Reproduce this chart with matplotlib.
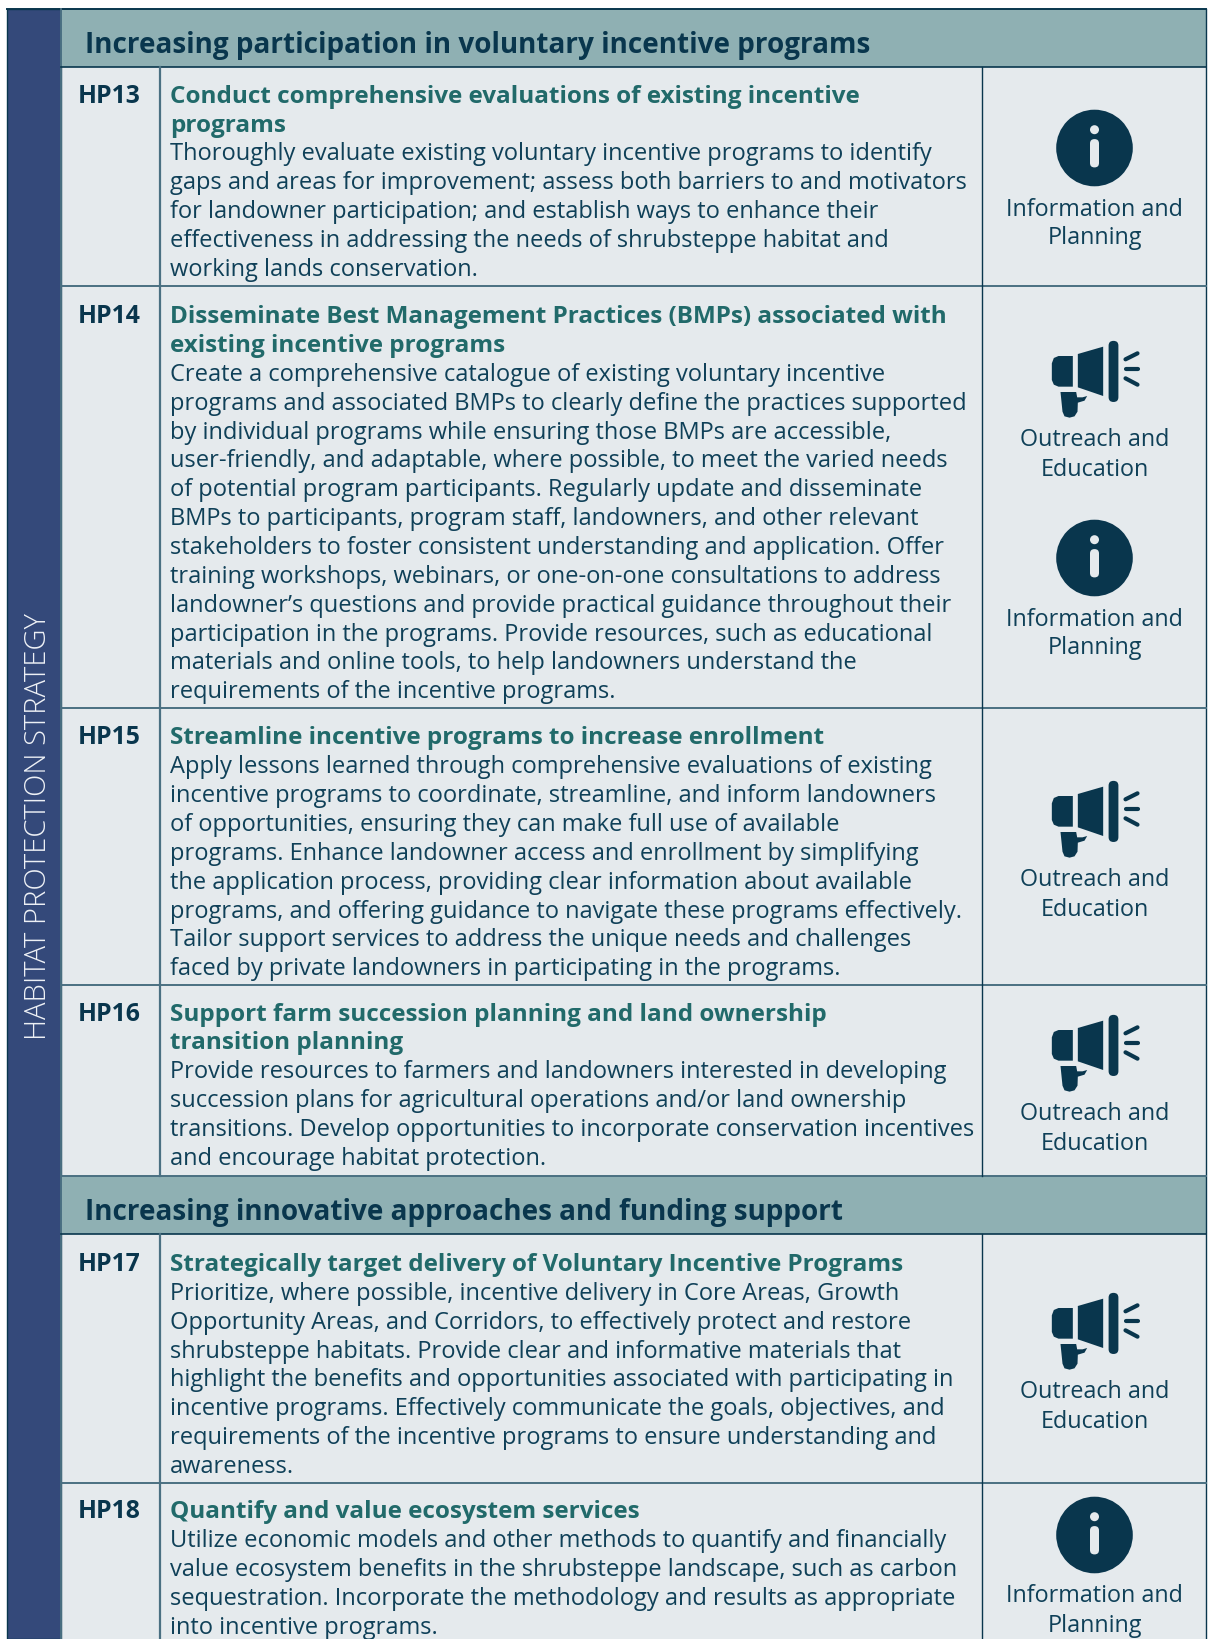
#!/usr/bin/env python3
"""
Habitat protection strategy table, HP13-HP18.

Output: out.png
"""

import matplotlib
matplotlib.use('Agg')
import matplotlib.pyplot as plt
from matplotlib.patches import Circle, FancyBboxPatch, Polygon, Rectangle

# --- Palette ---
STRIP = '#34497A'
HEADER = '#8FB0B3'
CELL = '#E5EAED'
DARK = '#09364D'
BODY = '#0F4058'
TEAL = '#216A6A'
RULE = '#4A7082'
FONT = 'Open Sans'

SIDE_LABEL = 'HABITAT PROTECTION STRATEGY'

HEADERS = ['Increasing participation in voluntary incentive programs',
           'Increasing innovative approaches and funding support']
HEADER_TOPS = [9, 1176]
HEADER_BOTTOMS = [67, 1234]
HEADER_BASELINES = [53, 1220]

ROW_IDS = ['HP13', 'HP14', 'HP15', 'HP16', 'HP17', 'HP18']
ROW_BASELINES = [102.7, 323.2, 744.4, 1020.6, 1271, 1518.4]
RULE_YS = [286, 708, 985, 1483]

ROW_TITLES = [
    ['Conduct comprehensive evaluations of existing incentive', 'programs'],
    ['Disseminate Best Management Practices (BMPs) associated with',
     'existing incentive programs'],
    ['Streamline incentive programs to increase enrollment'],
    ['Support farm succession planning and land ownership',
     'transition planning'],
    ['Strategically target delivery of Voluntary Incentive Programs'],
    ['Quantify and value ecosystem services'],
]

ROW_BODIES = [
    ['Thoroughly evaluate existing voluntary incentive programs to identify',
     'gaps and areas for improvement; assess both barriers to and motivators',
     'for landowner participation; and establish ways to enhance their',
     'effectiveness in addressing the needs of shrubsteppe habitat and',
     'working lands conservation.'],
    ['Create a comprehensive catalogue of existing voluntary incentive',
     'programs and associated BMPs to clearly define the practices supported',
     'by individual programs while ensuring those BMPs are accessible,',
     'user-friendly, and adaptable, where possible, to meet the varied needs',
     'of potential program participants. Regularly update and disseminate',
     'BMPs to participants, program staff, landowners, and other relevant',
     'stakeholders to foster consistent understanding and application. Offer',
     'training workshops, webinars, or one-on-one consultations to address',
     'landowner\u2019s questions and provide practical guidance throughout their',
     'participation in the programs. Provide resources, such as educational',
     'materials and online tools, to help landowners understand the',
     'requirements of the incentive programs.'],
    ['Apply lessons learned through comprehensive evaluations of existing',
     'incentive programs to coordinate, streamline, and inform landowners',
     'of opportunities, ensuring they can make full use of available',
     'programs. Enhance landowner access and enrollment by simplifying',
     'the application process, providing clear information about available',
     'programs, and offering guidance to navigate these programs effectively.',
     'Tailor support services to address the unique needs and challenges',
     'faced by private landowners in participating in the programs.'],
    ['Provide resources to farmers and landowners interested in developing',
     'succession plans for agricultural operations and/or land ownership',
     'transitions. Develop opportunities to incorporate conservation incentives',
     'and encourage habitat protection.'],
    ['Prioritize, where possible, incentive delivery in Core Areas, Growth',
     'Opportunity Areas, and Corridors, to effectively protect and restore',
     'shrubsteppe habitats. Provide clear and informative materials that',
     'highlight the benefits and opportunities associated with participating in',
     'incentive programs. Effectively communicate the goals, objectives, and',
     'requirements of the incentive programs to ensure understanding and',
     'awareness.'],
    ['Utilize economic models and other methods to quantify and financially',
     'value ecosystem benefits in the shrubsteppe landscape, such as carbon',
     'sequestration. Incorporate the methodology and results as appropriate',
     'into incentive programs.'],
]

# kind, icon centre y
ICON_KINDS = ['info', 'mega', 'info', 'mega', 'mega', 'mega', 'info']
ICON_YS = [148, 379, 558, 819, 1053, 1331, 1535]
INFO_LABEL = ['Information and', 'Planning']
MEGA_LABEL = ['Outreach and', 'Education']

BODY_SIZE = 17.0
TITLE_SIZE = 17.5
LABEL_SIZE = 16.8
LINE = 28.85
COL_X = 160
ICON_X = 982
RIGHT = 1206
ICON_CX = 1094.5


def draw_info(ax, cx, cy):
    ax.add_patch(Circle((cx, cy), 38.3, fc=DARK, ec='none'))
    ax.add_patch(Circle((cx, cy - 18.3), 4.5, fc=CELL, ec='none'))
    ax.add_patch(FancyBboxPatch((cx - 0.1, cy - 4.5), 0.2, 19.5,
                                boxstyle='round,pad=4.4,rounding_size=4.4',
                                fc=CELL, ec='none'))
    for i, s in enumerate(INFO_LABEL):
        ax.text(cx, cy + 67.5 + i * 29, s, ha='center', va='baseline',
                fontsize=LABEL_SIZE, color=BODY, family=FONT)


def draw_mega(ax, cx, cy):
    def pts(p):
        return [(cx + (x - 400) / 3, cy + (y - 237) / 3) for x, y in p]

    # horn, mouth, handle
    ax.add_patch(Polygon(pts([(350, 162), (426, 140), (426, 288), (350, 262)]),
                         fc=DARK, ec='none'))
    ax.add_patch(Polygon(pts([(335, 168), (292, 168), (278, 174), (272, 190),
                              (272, 240), (278, 254), (292, 260), (335, 260)]),
                         fc=DARK, ec='none'))
    ax.add_patch(Polygon(pts([(298, 276), (345, 276), (348, 292), (364, 292),
                              (378, 288), (370, 302), (350, 308), (349, 335),
                              (340, 349), (325, 353), (310, 349), (304, 335)]),
                         fc=DARK, ec='none'))
    x0, y0 = pts([(457, 137)])[0]
    ax.add_patch(FancyBboxPatch((x0 - 0.1, y0), 0.2, 51.5,
                                boxstyle='round,pad=4.8,rounding_size=4.8',
                                fc=DARK, ec='none'))
    for a, b in [((493, 178), (529, 160)), ((493, 206), (529, 206)),
                 ((493, 235), (529, 254))]:
        (xa, ya), (xb, yb) = pts([a, b])
        ax.plot([xa, xb], [ya, yb], color=DARK, lw=3.0, solid_capstyle='round')
    for i, s in enumerate(MEGA_LABEL):
        ax.text(cx, cy + 67 + i * 29.5, s, ha='center', va='baseline',
                fontsize=LABEL_SIZE, color=BODY, family=FONT)


fig = plt.figure(figsize=(12.08, 16.39), dpi=100)
fig.patch.set_facecolor('white')
ax = fig.add_axes([0, 0, 1, 1])
ax.set_xlim(0, 1208)
ax.set_ylim(1639, 0)
ax.axis('off')

# Backgrounds
ax.add_patch(Rectangle((61, 9), RIGHT - 61, 1630, fc=CELL, ec='none'))
ax.add_patch(Rectangle((7, 9), 54, 1630, fc=STRIP, ec=DARK, lw=1.0))
for top, bot in zip(HEADER_TOPS, HEADER_BOTTOMS):
    ax.add_patch(Rectangle((61, top), RIGHT - 61, bot - top, fc=HEADER, ec='none'))

# Rules
ax.plot([RIGHT, RIGHT], [9, 1639], color=DARK, lw=1.0)
ax.plot([7, RIGHT], [9, 9], color=DARK, lw=1.4)
ax.plot([61, 61], [9, 1639], color=RULE, lw=1.4)
for y in RULE_YS + HEADER_TOPS[1:]:
    ax.plot([61, RIGHT], [y, y], color=RULE, lw=1.4)
for y in HEADER_BOTTOMS:
    ax.plot([61, RIGHT], [y, y], color=DARK, lw=1.2)
for top, bot in [(67, 1176), (1234, 1639)]:
    ax.plot([COL_X, COL_X], [top, bot], color=RULE, lw=1.6)
    ax.plot([ICON_X, ICON_X], [top, bot], color=DARK, lw=1.0)

# Text
ax.text(38, 827, SIDE_LABEL, rotation=90, ha='center', va='center',
        fontsize=21, color='#EEF1F6', family=FONT, weight='light')
for label, y in zip(HEADERS, HEADER_BASELINES):
    ax.text(85, y, label, va='baseline', fontsize=20.1, fontweight='bold',
            color=DARK, family=FONT)

for rid, base, title, body in zip(ROW_IDS, ROW_BASELINES, ROW_TITLES, ROW_BODIES):
    ax.text(78, base, rid, va='baseline', fontsize=17.8, fontweight='bold',
            color=DARK, family=FONT)
    for i, s in enumerate(title):
        ax.text(170, base + i * LINE, s, va='baseline', fontsize=TITLE_SIZE,
                fontweight='bold', color=TEAL, family=FONT)
    for i, s in enumerate(body):
        ax.text(170, base + (i + len(title)) * LINE, s, va='baseline',
                fontsize=BODY_SIZE, color=BODY, family=FONT)

# Icons
for kind, y in zip(ICON_KINDS, ICON_YS):
    if kind == 'info':
        draw_info(ax, ICON_CX, y)
    else:
        draw_mega(ax, ICON_CX, y)

fig.savefig('out.png', dpi=100, facecolor='white')
plt.close(fig)
